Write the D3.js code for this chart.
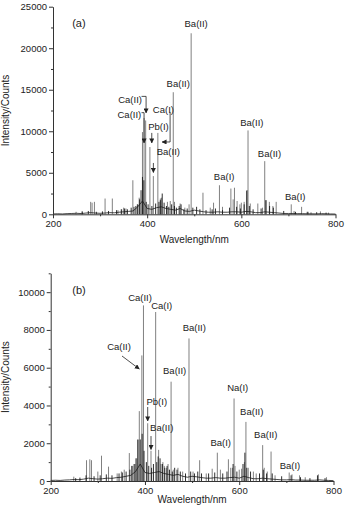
<!DOCTYPE html>
<html>
<head>
<meta charset="utf-8">
<script src="https://cdn.jsdelivr.net/npm/d3@7"></script>
<style>
  body { margin: 0; background: #fff; }
  svg { display: block; font-family: "Liberation Sans", Arial, sans-serif; }
</style>
</head>
<body>
<svg id="chart" width="346" height="505"></svg>
<script>
// ---- shared axis values ----
const xTickValues = [200, 400, 600, 800];
const xMinorValues = [300, 500, 700];

// ---- panel (a) ----
const yTicksA = [0, 5000, 10000, 15000, 20000, 25000];
const yMinorA = [2500, 7500, 12500, 17500, 22500];

// smooth continuum [wavelength, counts]
const baseA = [[200,40],[210,60],[220,40],[230,80],[240,100],[250,120],[260,90],[270,150],[280,200],[290,150],
  [300,120],[310,150],[320,200],[330,180],[340,250],[350,300],[360,350],[370,400],[380,900],[390,1600],
  [400,700],[410,600],[420,800],[430,900],[440,700],[450,600],[460,500],[470,700],[480,400],[490,350],
  [500,500],[510,400],[520,300],[530,250],[540,250],[550,300],[560,250],[570,250],[580,300],[590,300],
  [600,250],[610,350],[620,300],[630,200],[640,200],[650,300],[660,250],[670,200],[680,150],[690,100],
  [700,100],[710,100],[720,80],[730,80],[740,60],[750,60],[760,50],[770,80],[780,60],[790,40],[800,30]];

// emission lines (grey sticks) [wavelength, counts]
const linesA = [[249,300],[262,400],[280,1500],[283,1400],[288,1500],[310.6,1900],[326,1900],[338,500],[346,600],
  [350,800],[355,700],[369.6,4100],[379,1200],[383,2000],[390,9900],[393.4,11600],[396.8,11300],[405.8,8100],
  [413.1,4600],[422.7,9800],[428,1900],[430.3,2000],[443,1500],[449,1600],[455.4,14700],[458,1500],[470,1300],
  [480,800],[489,1200],[493.4,21800],[518.5,2600],[534,800],[541,1400],[553.5,3500],[560,900],[577.8,3100],
  [582.6,1800],[585.4,3200],[591,1600],[597,1200],[600,1400],[606,1500],[611,2800],[614.2,10100],[619,1300],
  [635,1300],[645,800],[649.7,6400],[652.7,1700],[659.5,1500],[667,1000],[674,1500],[706,1200],[712,400],
  [728,900],[742,300],[748,250],[768,350],[785,200]];

// dense dark spikes [wavelength, counts]
const spikesA = [[262,300],[275,400],[292,300],[305,350],[318,400],[335,500],[345,600],[352,700],[358,600],
  [366,800],[372,900],[376,1000],[380,1200],[384,1800],[387,2900],[390,4500],[393,4100],[398,1500],[402,1200],
  [410,1000],[418,1300],[425,1500],[428,1700],[432,2500],[436,1400],[441,1000],[446,900],[452,1200],[458,1000],
  [462,800],[468,1000],[472,1200],[478,600],[485,700],[497,800],[505,900],[512,600],[525,500],[538,600],
  [545,700],[560,500],[575,800],[590,900],[598,700],[606,1200],[612,2900],[617,1000],[625,600],[642,700],
  [652,1700],[660,1000],[668,800],[690,400],[715,300],[740,300],[760,250],[780,200]];

// annotations [text, wavelength, counts]
const labelsA = [["(a)",255,22600],["Ba(II)",504,22500],["Ba(II)",466,15360],["Ca(II)",363.7,13430],
  ["Ca(II)",362.2,11620],["Ca(I)",434.5,12140],["Pb(I)",424,10125],["Ba(II)",445,7110],
  ["Ba(II)",622.4,10600],["Ba(II)",659.8,6920],["Ba(I)",563.5,4100],["Ba(I)",714.5,1770]];
const arrowsA = [
  [[388,14200],[397.7,14200],[397.7,12210]],
  [[388,12240],[393.4,12240],[393.4,8590]],
  [[409.8,9800],[409.8,8590]],
  [[448.7,12330],[448.7,8710],[431.7,8710]],
  [[413.2,6180],[413.2,5040]]
];

// ---- panel (b) ----
const yTicksB = [0, 2000, 4000, 6000, 8000, 10000];
const yMinorB = [1000, 3000, 5000, 7000, 9000, 11000];

const baseB = [[200,30],[210,40],[220,30],[230,50],[240,60],[250,80],[260,70],[270,100],[280,150],[290,120],
  [300,100],[310,120],[320,150],[330,140],[340,180],[350,200],[360,250],[370,300],[380,500],[390,900],
  [400,450],[410,400],[420,450],[430,500],[440,400],[450,350],[460,300],[470,350],[480,250],[490,200],
  [500,250],[510,220],[520,180],[530,150],[540,150],[550,180],[560,150],[570,150],[580,180],[590,200],
  [600,150],[610,250],[620,180],[630,120],[640,120],[650,150],[660,120],[670,100],[680,80],[690,60],
  [700,60],[710,70],[720,50],[730,50],[740,40],[750,40],[760,40],[770,60],[780,40],[790,30],[800,20]];

const linesB = [[249,230],[276,1100],[283,1150],[286.5,1100],[300,500],[307.8,1340],[322.7,760],[341,400],
  [350,500],[356,600],[366.8,1480],[374,800],[379,900],[383,1200],[385,2180],[388,3700],[393.4,6650],
  [396.8,9300],[405.8,3060],[412.8,1600],[422.7,8950],[429,1650],[434,900],[438,1000],[441,800],[446,700],
  [449,900],[455.4,5260],[460,600],[470,700],[480,500],[493.4,7550],[502,500],[516,1100],[530,400],
  [542.6,650],[553.5,1500],[560,600],[577,1150],[582,700],[585.6,700],[589,4370],[591,800],[600,600],
  [605,650],[611,1000],[614.2,3130],[619,700],[630,500],[636,400],[649.7,1900],[653,700],[659.5,500],
  [667.5,1560],[676,300],[706,450],[712,350],[728,300],[740,200],[768,350],[785,200]];

const spikesB = [[253,150],[262,180],[275,300],[292,250],[305,300],[318,350],[330,300],[345,400],[352,450],
  [360,500],[368,600],[372,800],[377,900],[381,1200],[385,2200],[390,2200],[394,2500],[398,1600],[403,1000],
  [408,800],[414,700],[418,900],[425,1000],[428,1300],[432,1200],[437,900],[442,700],[447,800],[452,600],
  [458,500],[463,700],[468,600],[475,500],[486,400],[497,500],[505,400],[512,500],[520,400],[535,400],
  [548,450],[565,400],[574,500],[587,900],[595,500],[608,900],[612,1500],[616,700],[624,500],[643,400],
  [651,600],[658,400],[670,400],[690,250],[710,300],[730,200],[750,150],[766,300],[782,150]];

const labelsB = [["(b)",260,9925],["Ca(II)",389.5,9540],["Ca(I)",435.5,9090],["Ba(II)",504.7,7930],
  ["Ca(II)",345,6920],["Ba(II)",463,5690],["Pb(I)",425,4050],["Ba(II)",435.5,2650],["Na(I)",596.8,4770],
  ["Ba(II)",626.5,3480],["Ba(II)",656.2,2280],["Ba(I)",560.7,1840],["Ba(I)",707.7,620]];
const arrowsB = [
  [[351.3,6620],[388,5930]],
  [[405.8,3920],[405.8,3180]],
  [[412.8,2380],[412.8,1670]]
];

const svg = d3.select("#chart");

svg.append("defs").append("marker")
  .attr("id", "head")
  .attr("viewBox", "0 0 10 10")
  .attr("refX", 9).attr("refY", 5)
  .attr("markerWidth", 5).attr("markerHeight", 5)
  .attr("markerUnits", "userSpaceOnUse")
  .attr("orient", "auto")
  .append("path")
  .attr("d", "M0,0L10,5L0,10Z")
  .attr("fill", "#222");

function drawPanel(p) {
  const x = d3.scaleLinear().domain([200, 800]).range(p.xRange);
  const y = d3.scaleLinear().domain(p.yDomain).range(p.yRange);
  const g = svg.append("g");

  // grey line sticks
  g.append("g").selectAll("line")
    .data(p.lines)
    .join("line")
    .attr("x1", d => x(d[0])).attr("x2", d => x(d[0]))
    .attr("y1", y(0)).attr("y2", d => y(d[1]))
    .attr("stroke", "#808080")
    .attr("stroke-width", 1);

  // dark continuum + spikes
  g.append("path")
    .datum(p.base)
    .attr("d", d3.line().x(d => x(d[0])).y(d => y(d[1])))
    .attr("fill", "none")
    .attr("stroke", "#1a1a1a")
    .attr("stroke-width", 0.8);

  g.append("g").selectAll("line")
    .data(p.spikes)
    .join("line")
    .attr("x1", d => x(d[0])).attr("x2", d => x(d[0]))
    .attr("y1", y(0)).attr("y2", d => y(d[1]))
    .attr("stroke", "#1a1a1a")
    .attr("stroke-width", 0.9);

  // axes
  const xAxis = g.append("g")
    .attr("transform", `translate(0,${p.yRange[0]})`)
    .call(d3.axisBottom(x).tickValues(xTickValues).tickSize(4).tickPadding(2).tickSizeOuter(0));
  g.append("g")
    .attr("transform", `translate(0,${p.yRange[0]})`)
    .call(d3.axisBottom(x).tickValues(xMinorValues).tickSize(2).tickFormat("").tickSizeOuter(0))
    .select(".domain").remove();

  const yAxis = g.append("g")
    .attr("transform", `translate(${p.xRange[0]},0)`)
    .call(d3.axisLeft(y).tickValues(p.yTicks).tickFormat(d3.format("d"))
      .tickSize(4).tickPadding(2).tickSizeOuter(0));
  g.append("g")
    .attr("transform", `translate(${p.xRange[0]},0)`)
    .call(d3.axisLeft(y).tickValues(p.yMinor).tickSize(2).tickFormat("").tickSizeOuter(0))
    .select(".domain").remove();

  g.selectAll(".domain, .tick line").attr("stroke", "#333");
  [xAxis, yAxis].forEach(a => a.selectAll("text")
    .attr("font-size", 9.5)
    .attr("font-family", "Liberation Sans, Arial, sans-serif")
    .attr("fill", "#222"));

  // axis titles
  g.append("text")
    .attr("x", (p.xRange[0] + p.xRange[1]) / 2)
    .attr("y", p.xTitleY)
    .attr("text-anchor", "middle")
    .attr("font-size", 10)
    .attr("fill", "#222")
    .text("Wavelength/nm");
  g.append("text")
    .attr("transform", `translate(9,${(p.yRange[0] + p.yRange[1]) / 2}) rotate(-90)`)
    .attr("text-anchor", "middle")
    .attr("font-size", 10)
    .attr("fill", "#222")
    .text("Intensity/Counts");

  // annotations
  g.append("g").selectAll("text")
    .data(p.labels)
    .join("text")
    .attr("x", d => x(d[1]))
    .attr("y", d => y(d[2]))
    .attr("text-anchor", "middle")
    .attr("font-size", d => d[0].length === 3 ? 11 : 9.5)
    .attr("fill", "#222")
    .text(d => d[0]);

  g.append("g").selectAll("path")
    .data(p.arrows)
    .join("path")
    .attr("d", d3.line().x(d => x(d[0])).y(d => y(d[1])))
    .attr("fill", "none")
    .attr("stroke", "#222")
    .attr("stroke-width", 0.8)
    .attr("marker-end", "url(#head)");
}

drawPanel({
  xRange: [53, 335.5], yDomain: [0, 25000], yRange: [214.3, 6.7],
  yTicks: yTicksA, yMinor: yMinorA, xTitleY: 243,
  lines: linesA, base: baseA, spikes: spikesA, labels: labelsA, arrows: arrowsA
});

drawPanel({
  xRange: [50.7, 333.5], yDomain: [0, 11000], yRange: [481, 273.3],
  yTicks: yTicksB, yMinor: yMinorB, xTitleY: 503,
  lines: linesB, base: baseB, spikes: spikesB, labels: labelsB, arrows: arrowsB
});
</script>
</body>
</html>
